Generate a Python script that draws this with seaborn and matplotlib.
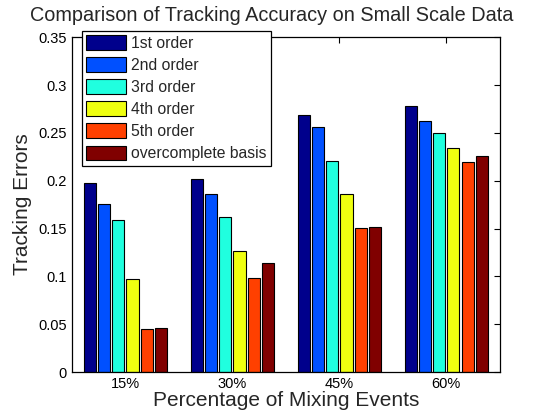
import matplotlib
matplotlib.use("Agg")
import matplotlib.pyplot as plt
import pandas as pd
import seaborn as sns

groups = ["15%", "30%", "45%", "60%"]
orders = ["1st order", "2nd order", "3rd order", "4th order", "5th order",
          "overcomplete basis"]
errors = {
    "1st order": [0.198, 0.202, 0.269, 0.278],
    "2nd order": [0.176, 0.186, 0.256, 0.262],
    "3rd order": [0.159, 0.162, 0.221, 0.250],
    "4th order": [0.097, 0.127, 0.186, 0.234],
    "5th order": [0.045, 0.098, 0.151, 0.220],
    "overcomplete basis": [0.046, 0.114, 0.152, 0.226],
}
colors = ["#00008C", "#0050FF", "#20FFDF", "#EFFF10", "#FF4000", "#800000"]

df = pd.DataFrame(errors, index=groups)
df.index.name = "mixing"
df = df.reset_index().melt(id_vars="mixing", var_name="order", value_name="error")

sns.set_style("white")
plt.rcParams["font.family"] = ["Liberation Sans", "DejaVu Sans"]

fig = plt.figure(figsize=(5.45, 4.18), dpi=100)
ax = fig.add_axes([0.132, 0.110, 0.785, 0.801])

sns.barplot(df, x="mixing", y="error", hue="order", hue_order=orders,
            palette=colors, order=groups, width=0.8, gap=0.15, saturation=1,
            edgecolor="black", linewidth=0.8, ax=ax)

ax.set_xlim(-0.5, 3.5)
ax.set_ylim(0, 0.35)
ax.set_yticks([0, 0.05, 0.1, 0.15, 0.2, 0.25, 0.3, 0.35])
ax.set_yticklabels(["0", "0.05", "0.1", "0.15", "0.2", "0.25", "0.3", "0.35"])
ax.tick_params(direction="in", length=4, width=0.8, labelsize=10.5,
               top=True, right=True, colors="black")
for s in ax.spines.values():
    s.set_visible(True)
    s.set_color("black")
    s.set_linewidth(0.9)

ax.set_xlabel("Percentage of Mixing Events", fontsize=15, labelpad=0)
ax.set_ylabel("Tracking Errors", fontsize=15, labelpad=5)
ax.set_title("Comparison of Tracking Accuracy on Small Scale Data",
             fontsize=14.3, pad=12, x=0.467)

handles, labels = ax.get_legend_handles_labels()
leg = ax.legend(handles, labels, loc="upper left", bbox_to_anchor=(0.0227, 1.019),
                borderaxespad=0, fontsize=11.3, handlelength=2.55,
                handleheight=1.08, labelspacing=0.4, borderpad=0.28,
                handletextpad=0.3, fancybox=False, framealpha=1,
                edgecolor="black")
leg.get_frame().set_linewidth(0.9)

fig.savefig("out.png", dpi=100)
